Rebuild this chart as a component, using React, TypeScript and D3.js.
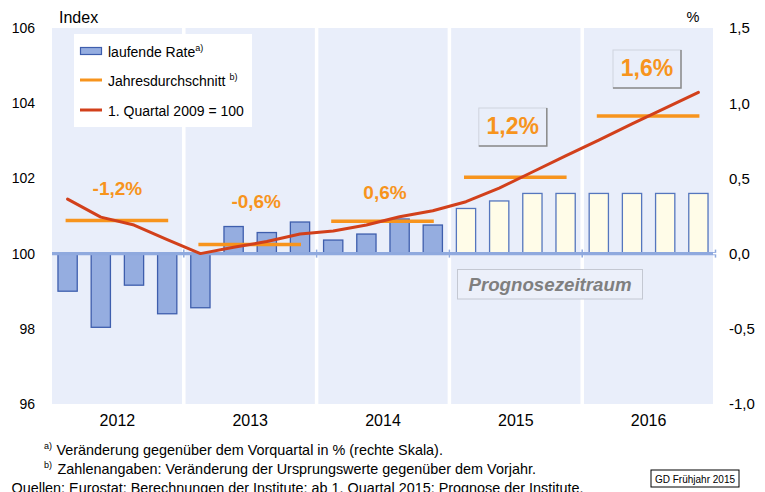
import React from "react";
import * as d3 from "d3";

// ---------- data ----------
const quarters = [
  "2012Q1", "2012Q2", "2012Q3", "2012Q4",
  "2013Q1", "2013Q2", "2013Q3", "2013Q4",
  "2014Q1", "2014Q2", "2014Q3", "2014Q4",
  "2015Q1", "2015Q2", "2015Q3", "2015Q4",
  "2016Q1", "2016Q2", "2016Q3", "2016Q4",
];
const years = ["2012", "2013", "2014", "2015", "2016"];
// laufende Rate (% change vs previous quarter, right axis)
const rateValues = [
  -0.25, -0.49, -0.21, -0.40,
  -0.36, 0.18, 0.14, 0.21,
  0.09, 0.13, 0.23, 0.19,
  0.30, 0.35, 0.40, 0.40,
  0.40, 0.40, 0.40, 0.40,
];
// Index, 1. Quartal 2009 = 100 (left axis)
const indexValues = [
  101.45, 100.97, 100.76, 100.37,
  100.0, 100.17, 100.32, 100.52,
  100.60, 100.76, 100.98, 101.14,
  101.38, 101.74, 102.17, 102.60,
  103.02, 103.45, 103.87, 104.29,
];
// Jahresdurchschnitt (index level, left axis)
const annualAvgIndex = [100.88, 100.24, 100.86, 102.03, 103.66];
const annualGrowthLabels = ["-1,2%", "-0,6%", "0,6%", "1,2%", "1,6%"];
const forecastFirstQuarter = "2015Q1";
const leftTicks = [96, 98, 100, 102, 104, 106];
const rightTicks = [-1, -0.5, 0, 0.5, 1, 1.5];

// ---------- layout ----------
const W = 765;
const H = 492;
const X0 = 51;
const X1 = 715;
const Y0 = 28;
const Y1 = 404;
const FONT = "'Liberation Sans', Arial, Helvetica, sans-serif";
const BG = "#E9EEFA";
const ORANGE = "#F7941D";
const RED = "#D2401B";
const BAR_FILL = "#95ADE0";
const BAR_STROKE = "#3E5EAD";
const FC_FILL = "#FFFCE8";
const FC_STROKE = "#5576BE";
const ZERO_LINE = "#8FA9DE";

// label layout: [dx from year centre, baseline y, boxed]
const labelLayout: [number, number, boolean][] = [
  [0, 195, false],
  [6, 208, false],
  [2, 199, false],
  [-3, 134, true],
  [-1.6, 76, true],
];

export default function App() {
  const xQ = d3
    .scaleBand<string>()
    .domain(quarters)
    .range([X0, X1])
    .paddingInner(0.42)
    .paddingOuter(0.21);
  const xY = d3.scaleBand<string>().domain(years).range([X0, X1]);
  const yL = d3.scaleLinear().domain([96, 106]).range([Y1, Y0]);
  const yR = d3.scaleLinear().domain([-1, 1.5]).range([Y1, Y0]);
  const bw = xQ.bandwidth();
  const cx = (q: string) => (xQ(q) as number) + bw / 2;
  const fcIdx = quarters.indexOf(forecastFirstQuarter);

  const line = d3
    .line<number>()
    .x((_, i) => cx(quarters[i]))
    .y((d) => yL(d));

  const fmtR = (v: number) => d3.format(".1f")(v).replace(".", ",").replace("−", "-");

  return (
    <svg
      width={W}
      height={H}
      style={{ position: "absolute", left: 0, top: 0, display: "block" }}
      fontFamily={FONT}
    >
      <rect x={0} y={0} width={W} height={H} fill="#ffffff" />
      {/* plot background */}
      <rect x={X0 + 1} y={Y0} width={X1 - X0 - 3} height={Y1 - Y0} fill={BG} />
      {/* year separators */}
      {years.slice(1).map((y) => (
        <line
          key={y}
          x1={xY(y)}
          x2={xY(y)}
          y1={Y0}
          y2={Y1}
          stroke="#ffffff"
          strokeWidth={3.5}
        />
      ))}

      {/* bars */}
      {quarters.map((q, i) => {
        const v = rateValues[i];
        const fc = i >= fcIdx;
        const y = v >= 0 ? yR(v) : yR(0);
        const h = Math.abs(yR(v) - yR(0));
        return (
          <rect
            key={q}
            x={xQ(q)}
            y={y}
            width={bw}
            height={h}
            fill={fc ? FC_FILL : BAR_FILL}
            stroke={fc ? FC_STROKE : BAR_STROKE}
            strokeWidth={1.3}
          />
        );
      })}

      {/* zero line */}
      <line x1={X0 + 1} x2={X1 + 1} y1={yR(0)} y2={yR(0)} stroke={ZERO_LINE} strokeWidth={3.2} />
      {years.slice(1).concat(["end"]).map((y) => {
        const x = y === "end" ? X1 + 0.5 : (xY(y) as number);
        return (
          <line key={"t" + y} x1={x} x2={x} y1={yR(0) - 4} y2={yR(0) + 4} stroke={ZERO_LINE} strokeWidth={1.5} />
        );
      })}

      {/* annual average lines */}
      {years.map((y, k) => {
        const q1 = quarters[k * 4];
        const q4 = quarters[k * 4 + 3];
        return (
          <line
            key={"avg" + y}
            x1={cx(q1) - 2}
            x2={cx(q4) + 1}
            y1={yL(annualAvgIndex[k])}
            y2={yL(annualAvgIndex[k])}
            stroke={ORANGE}
            strokeWidth={3.5}
          />
        );
      })}

      {/* index line */}
      <path
        d={line(indexValues) as string}
        fill="none"
        stroke={RED}
        strokeWidth={3}
        strokeLinejoin="round"
        strokeLinecap="round"
      />

      {/* growth labels */}
      {years.map((y, k) => {
        const [dx, by, boxed] = labelLayout[k];
        const x = (xY(y) as number) + xY.bandwidth() / 2 + dx;
        return (
          <g key={"lab" + y}>
            {boxed && (
              <g>
                <rect x={x - 34} y={by - 26} width={68} height={38} fill={BG} stroke="#cfd3de" strokeWidth={1} />
                <polyline
                  points={`${x + 34},${by - 26} ${x + 34},${by + 12} ${x - 34},${by + 12}`}
                  fill="none"
                  stroke="#8a8a8a"
                  strokeWidth={1.5}
                />
              </g>
            )}
            <text
              x={x}
              y={by}
              textAnchor="middle"
              fontWeight="bold"
              fontSize={boxed ? 23 : 19}
              fill={ORANGE}
            >
              {annualGrowthLabels[k]}
            </text>
          </g>
        );
      })}

      {/* Prognosezeitraum box */}
      <rect x={457.5} y={269.5} width={185} height={29.5} fill="#ECF0FA" stroke="#c4c8d2" strokeWidth={1} />
      <text
        x={550}
        y={290.5}
        textAnchor="middle"
        fontWeight="bold"
        fontStyle="italic"
        fontSize={18.7}
        fill="#7f7f7f"
      >
        Prognosezeitraum
      </text>

      {/* legend */}
      <rect x={74} y={34} width={178} height={93} fill="#ffffff" />
      <rect x={80.5} y={47.5} width={21} height={7} fill={BAR_FILL} stroke={BAR_STROKE} strokeWidth={1.2} />
      <text x={108} y={56.5} fontSize={14} fill="#000">
        laufende Rate<tspan fontSize={9} dy={-6}>a)</tspan>
      </text>
      <line x1={80} x2={102} y1={80} y2={80} stroke={ORANGE} strokeWidth={3} />
      <text x={108} y={85.5} fontSize={14} fill="#000">
        Jahresdurchschnitt <tspan fontSize={9} dy={-6}>b)</tspan>
      </text>
      <line x1={80} x2={102} y1={110} y2={110} stroke={RED} strokeWidth={3} />
      <text x={108} y={115.5} fontSize={14} fill="#000">
        1. Quartal 2009 = 100
      </text>

      {/* left axis */}
      <text x={59} y={23} fontSize={16} fill="#000">Index</text>
      {leftTicks.map((t) => (
        <g key={"l" + t}>
          <line x1={X0 - 3} x2={X0 + 1} y1={yL(t)} y2={yL(t)} stroke="#ffffff" strokeWidth={1.5} />
          <text x={35} y={yL(t)} dy="0.36em" textAnchor="end" fontSize={14} fill="#000">
            {t}
          </text>
        </g>
      ))}

      {/* right axis */}
      <text x={693} y={22} textAnchor="middle" fontSize={14.5} fill="#000">%</text>
      {rightTicks.map((t) => (
        <g key={"r" + t}>
          <line x1={X1 - 2} x2={X1 + 2} y1={yR(t)} y2={yR(t)} stroke="#ffffff" strokeWidth={1.5} />
          <text x={729} y={yR(t)} dy="0.36em" textAnchor="start" fontSize={15} fill="#000">
            {fmtR(t)}
          </text>
        </g>
      ))}

      {/* year labels */}
      {years.map((y) => (
        <text
          key={"y" + y}
          x={(xY(y) as number) + xY.bandwidth() / 2}
          y={426}
          textAnchor="middle"
          fontSize={16}
          fill="#000"
        >
          {y}
        </text>
      ))}

      {/* footnotes */}
      <text x={44} y={449} fontSize={9} fill="#000">a)</text>
      <text x={56.5} y={455} fontSize={14.4} fill="#000">
        Veränderung gegenüber dem Vorquartal in % (rechte Skala).
      </text>
      <text x={44} y={468} fontSize={9} fill="#000">b)</text>
      <text x={57.5} y={474} fontSize={14.4} fill="#000">
        Zahlenangaben: Veränderung der Ursprungswerte gegenüber dem Vorjahr.
      </text>
      <text x={11.5} y={493} fontSize={14.4} fill="#000">
        Quellen: Eurostat; Berechnungen der Institute; ab 1. Quartal 2015; Prognose der Institute.
      </text>

      {/* GD box */}
      <rect x={651} y={470} width={88} height={17} fill="#ffffff" stroke="#000" strokeWidth={1} />
      <text x={695} y={482.5} textAnchor="middle" fontSize={10} fill="#000">
        GD Frühjahr 2015
      </text>
    </svg>
  );
}
